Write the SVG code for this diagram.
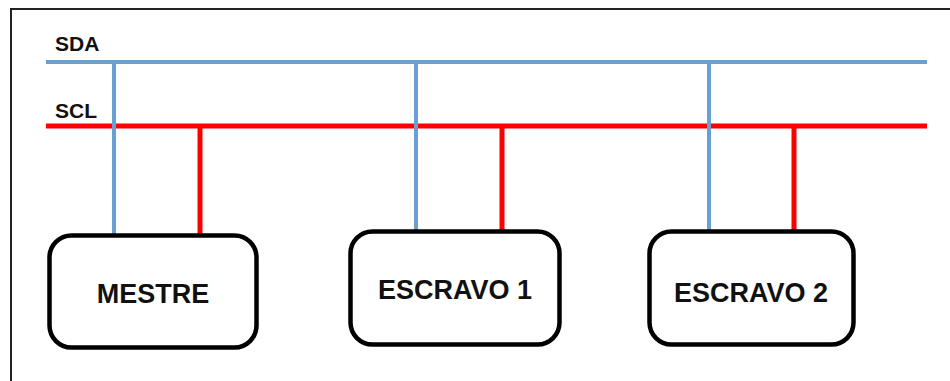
<svg xmlns="http://www.w3.org/2000/svg" width="950" height="381" viewBox="0 0 950 381">
  <style>
    .frame { fill: none; stroke: #222; stroke-width: 2; }
    .sda { stroke: #6a9fd2; stroke-width: 4; fill: none; }
    .scl { stroke: #ff0000; stroke-width: 5; fill: none; }
    .box { fill: #fff; stroke: #000; stroke-width: 4.5; }
    .busLabel { font-family: "Liberation Sans", Arial, sans-serif; font-weight: bold; font-size: 21px; fill: #111; }
    .nodeLabel { font-family: "Liberation Sans", Arial, sans-serif; font-weight: bold; font-size: 27px; fill: #111; text-anchor: middle; }
  </style>
  <rect width="950" height="381" fill="#fff"/>
  <!-- outer frame (left and top edges) -->
  <path class="frame" d="M11,381 V9 H950"/>

  <!-- bus labels -->
  <text class="busLabel" x="55" y="51">SDA</text>
  <text class="busLabel" x="55" y="118">SCL</text>

  <g id="connectors">
    <!-- SDA bus -->
    <line class="sda" x1="46" y1="62" x2="927" y2="62"/>
    <!-- SCL bus -->
    <line class="scl" x1="46" y1="126" x2="927" y2="126"/>
    <!-- SCL drops -->
    <line class="scl" x1="200" y1="126" x2="200" y2="235"/>
    <line class="scl" x1="502" y1="126" x2="502" y2="231"/>
    <line class="scl" x1="794" y1="126" x2="794" y2="231"/>
    <!-- SDA drops -->
    <line class="sda" x1="114" y1="62" x2="114" y2="235"/>
    <line class="sda" x1="416" y1="62" x2="416" y2="231"/>
    <line class="sda" x1="709" y1="62" x2="709" y2="231"/>
  </g>

  <g id="mestre">
    <rect class="box" x="49.5" y="235.5" width="207" height="112" rx="22"/>
    <text class="nodeLabel" x="153" y="303">MESTRE</text>
  </g>
  <g id="escravo1">
    <rect class="box" x="350.5" y="231.5" width="209" height="113" rx="22"/>
    <text class="nodeLabel" x="455" y="299">ESCRAVO 1</text>
  </g>
  <g id="escravo2">
    <rect class="box" x="649.5" y="231.5" width="204" height="113" rx="22"/>
    <text class="nodeLabel" x="751" y="302">ESCRAVO 2</text>
  </g>
</svg>
